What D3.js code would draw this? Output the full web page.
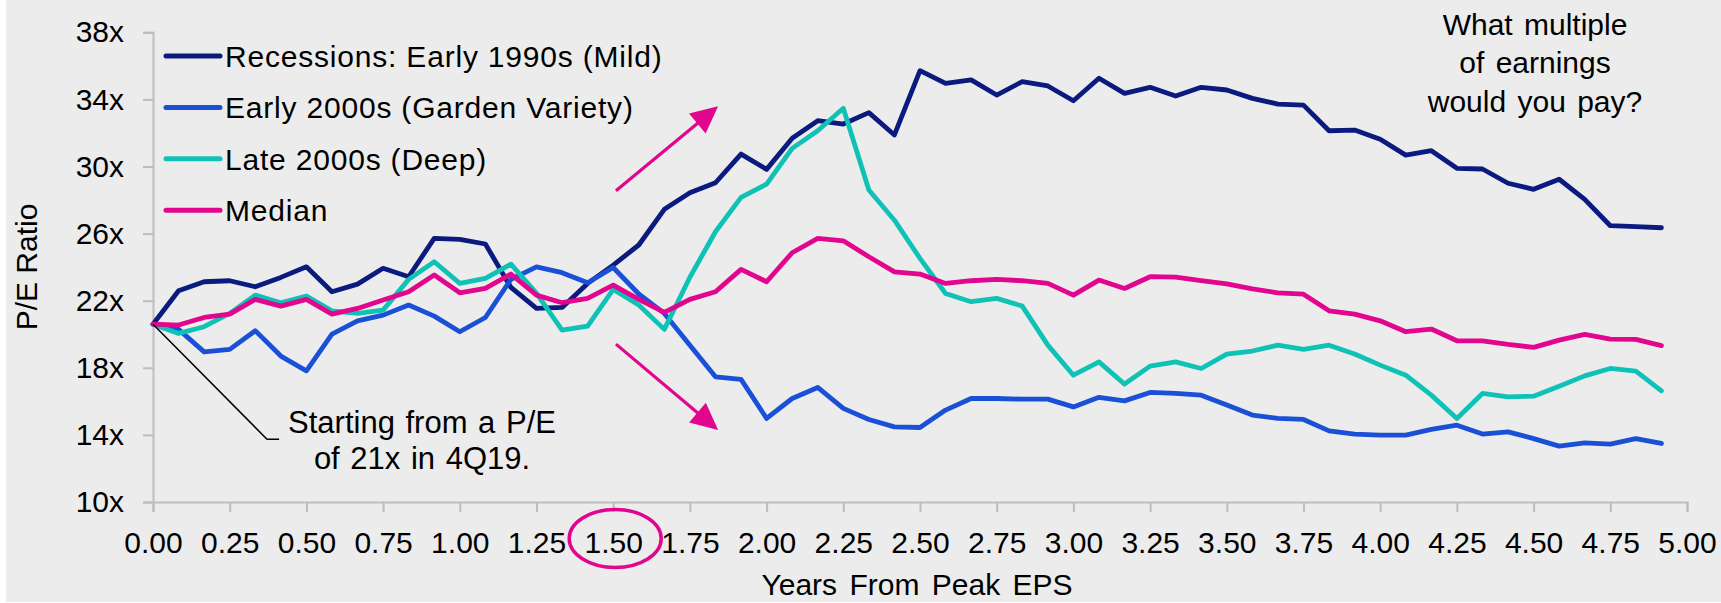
<!DOCTYPE html>
<html>
<head>
<meta charset="utf-8">
<script src="https://cdn.jsdelivr.net/npm/d3@7"></script>
<style>
  html, body { margin: 0; padding: 0; background: #ffffff; }
  svg { display: block; }
  text { font-family: "Liberation Sans", Arial, sans-serif; fill: #000; }
</style>
</head>
<body>
<svg id="chart" width="1721" height="603"></svg>
<script>
// Monthly P/E paths after peak EPS (month index 0..59)
const months = d3.range(60);

const early1990s = [20.6, 22.59, 23.13, 23.19, 22.83, 23.39, 24.02, 22.53, 22.99, 23.93,
  23.43, 25.72, 25.66, 25.38, 22.79, 21.54, 21.6, 23.03, 24.12, 25.32,
  27.45, 28.44, 29.03, 30.74, 29.83, 31.68, 32.73, 32.53, 33.21, 31.88,
  35.71, 34.96, 35.16, 34.26, 35.06, 34.8, 33.92, 35.26, 34.36, 34.72,
  34.2, 34.72, 34.56, 34.06, 33.72, 33.66, 32.13, 32.17, 31.62, 30.68,
  30.94, 29.89, 29.85, 29.0, 28.64, 29.24, 28.04, 26.47, 26.41, 26.35];

const early2000s = [20.6, 20.29, 18.95, 19.1, 20.21, 18.7, 17.82, 20.01, 20.8, 21.14,
  21.74, 21.08, 20.15, 21.0, 23.27, 24.02, 23.67, 23.07, 23.98, 22.4,
  21.24, 19.35, 17.46, 17.31, 14.98, 16.17, 16.83, 15.58, 14.92, 14.48,
  14.44, 15.48, 16.17, 16.17, 16.13, 16.13, 15.67, 16.24, 16.03, 16.53,
  16.47, 16.37, 15.78, 15.18, 14.98, 14.92, 14.24, 14.05, 13.99, 13.99,
  14.33, 14.58, 14.05, 14.18, 13.78, 13.33, 13.53, 13.45, 13.78, 13.49];

const late2000s = [20.6, 20.05, 20.45, 21.24, 22.33, 21.88, 22.28, 21.4, 21.24, 21.44,
  23.27, 24.32, 23.03, 23.33, 24.18, 22.44, 20.25, 20.49, 22.67, 21.74,
  20.29, 23.4, 26.11, 28.16, 28.95, 31.08, 32.13, 33.47, 28.6, 26.8,
  24.52, 22.43, 21.94, 22.14, 21.68, 19.35, 17.56, 18.35, 17.03, 18.1,
  18.35, 17.96, 18.82, 19.0, 19.35, 19.1, 19.35, 18.82, 18.16, 17.56,
  16.37, 14.98, 16.47, 16.27, 16.31, 16.9, 17.52, 17.96, 17.8, 16.63];

const median = [20.6, 20.55, 21.0, 21.2, 22.08, 21.68, 22.08, 21.2, 21.54, 22.04,
  22.53, 23.53, 22.47, 22.73, 23.59, 22.33, 21.88, 22.14, 22.93, 22.08,
  21.3, 22.08, 22.53, 23.87, 23.13, 24.86, 25.72, 25.57, 24.62, 23.72,
  23.59, 23.03, 23.19, 23.27, 23.19, 23.03, 22.33, 23.23, 22.73, 23.43,
  23.4, 23.2, 23.0, 22.7, 22.47, 22.39, 21.4, 21.2, 20.8, 20.15,
  20.31, 19.61, 19.61, 19.39, 19.22, 19.65, 19.99, 19.71, 19.69, 19.32];

const seriesNames = ["Recessions: Early 1990s (Mild)", "Early 2000s (Garden Variety)", "Late 2000s (Deep)", "Median"];
const seriesColors = ["#0a1a7e", "#1a50d6", "#10c2b6", "#e2058e"];
const seriesValues = [early1990s, early2000s, late2000s, median];

const xTicks = d3.range(0, 5.001, 0.25);
const yTicks = [10, 14, 18, 22, 26, 30, 34, 38];

const W = 1721, H = 603;
const svg = d3.select("#chart");

// backdrop
svg.append("rect").attr("x", 6).attr("y", 0).attr("width", W - 6).attr("height", H - 1).attr("fill", "#ececec");

const x = d3.scaleLinear().domain([0, 5]).range([153, 1687]);
const y = d3.scaleLinear().domain([10, 38]).range([502, 32.3]);

// axes
const axisColor = "#bdbdbd";
const yAxis = svg.append("g").attr("transform", `translate(${x(0)},0)`)
  .call(d3.axisLeft(y).tickValues(yTicks).tickSize(10).tickPadding(19).tickFormat(d => d + "x"));
const xAxis = svg.append("g").attr("transform", `translate(0,${y(10)})`)
  .call(d3.axisBottom(x).tickValues(xTicks).tickSize(10).tickPadding(12).tickFormat(d3.format(".2f")));

[yAxis, xAxis].forEach(g => {
  g.select(".domain").attr("stroke", axisColor).attr("stroke-width", 2);
  g.selectAll(".tick line").attr("stroke", axisColor).attr("stroke-width", 2);
  g.selectAll(".tick text").attr("font-size", 30).attr("fill", "#000")
    .style("font-family", '"Liberation Sans", Arial, sans-serif');
});
xAxis.selectAll(".tick text").attr("dy", "0.95em");

// axis titles
svg.append("text").attr("x", 917).attr("y", 595).attr("text-anchor", "middle")
  .attr("font-size", 30).attr("word-spacing", 4).text("Years From Peak EPS");
svg.append("text").attr("transform", `translate(37,267) rotate(-90)`).attr("text-anchor", "middle")
  .attr("font-size", 30).text("P/E Ratio");

// series lines
const line = d3.line().x((d, i) => x(months[i] / 12)).y(d => y(d));
seriesValues.forEach((vals, k) => {
  svg.append("path").datum(vals)
    .attr("d", line)
    .attr("fill", "none")
    .attr("stroke", seriesColors[k])
    .attr("stroke-width", 4.8)
    .attr("stroke-linejoin", "round")
    .attr("stroke-linecap", "round");
});

// legend
const legend = svg.append("g");
seriesNames.forEach((name, k) => {
  const ly = 56 + k * 51.4;
  legend.append("line").attr("x1", 166).attr("x2", 220).attr("y1", ly).attr("y2", ly)
    .attr("stroke", seriesColors[k]).attr("stroke-width", 5).attr("stroke-linecap", "round");
  legend.append("text").attr("x", 225).attr("y", ly).attr("dy", "0.36em")
    .attr("font-size", 30).attr("letter-spacing", 0.8).text(name);
});

// annotation: question
const q = ["What multiple", "of earnings", "would you pay?"];
q.forEach((t, i) => {
  svg.append("text").attr("x", 1535).attr("y", 35 + i * 38.4).attr("text-anchor", "middle")
    .attr("font-size", 30).attr("word-spacing", 3).text(t);
});

// annotation: starting point
const startLeader = [[0, median[0]], [0.3716, 13.74], [0.411, 13.74]];
svg.append("path")
  .attr("d", d3.line().x(d => x(d[0])).y(d => y(d[1]))(startLeader))
  .attr("fill", "none").attr("stroke", "#000").attr("stroke-width", 1.5);
["Starting from a P/E", "of 21x in 4Q19."].forEach((t, i) => {
  svg.append("text").attr("x", 422).attr("y", 432.7 + i * 36.6).attr("text-anchor", "middle")
    .attr("font-size", 31).attr("word-spacing", 2).text(t);
});

// arrows
const arrowColor = "#e2058e";
function arrow(from, to) {
  const x0 = x(from[0]), y0 = y(from[1]), x1 = x(to[0]), y1 = y(to[1]);
  const dx = x1 - x0, dy = y1 - y0, len = Math.hypot(dx, dy);
  const ux = dx / len, uy = dy / len;
  const headLen = 27, headHalf = 13;
  const bx = x1 - ux * headLen, by = y1 - uy * headLen;
  svg.append("line").attr("x1", x0).attr("y1", y0).attr("x2", bx + ux * 2).attr("y2", by + uy * 2)
    .attr("stroke", arrowColor).attr("stroke-width", 3.2);
  svg.append("polygon")
    .attr("points", [[x1, y1], [bx - uy * headHalf, by + ux * headHalf], [bx + uy * headHalf, by - ux * headHalf]].map(p => p.join(",")).join(" "))
    .attr("fill", arrowColor);
}
arrow([1.509, 28.55], [1.842, 33.59]);
arrow([1.509, 19.41], [1.842, 14.29]);

// highlight ring around the 1.50 tick label
svg.append("ellipse").attr("cx", x(1.5) + 2).attr("cy", y(10) + 36.5).attr("rx", 46).attr("ry", 29)
  .attr("fill", "none").attr("stroke", arrowColor).attr("stroke-width", 3.5);
</script>
</body>
</html>
